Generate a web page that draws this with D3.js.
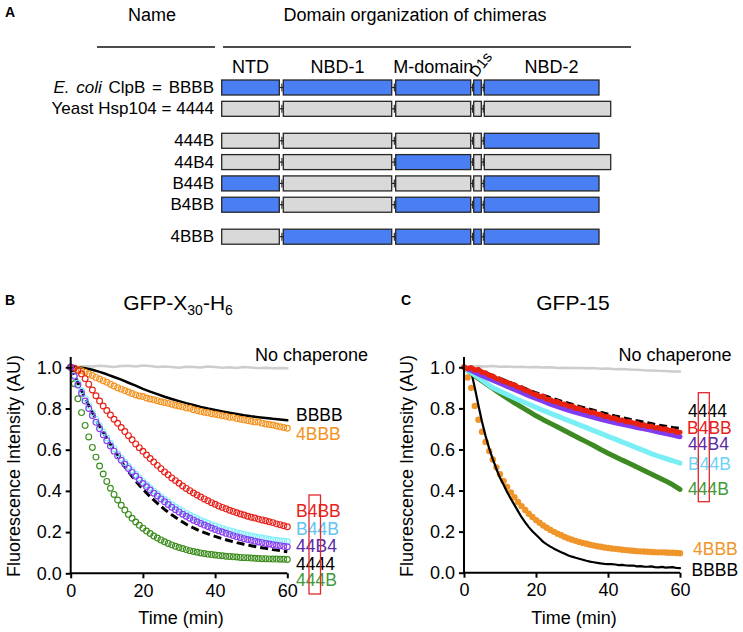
<!DOCTYPE html>
<html>
<head>
<meta charset="utf-8">
<script src="https://cdn.jsdelivr.net/npm/d3@7"></script>
<style>
  body { margin: 0; background: #fff; }
  svg { display: block; font-family: "Liberation Sans", Arial, Helvetica, sans-serif; }
</style>
</head>
<body>
<div id="chart"></div>
<script>
// ---- data ------------------------------------------------------------------

// Panel A: domain organization (schematic units along the chain)
const domainNames = ["NTD", "NBD-1", "M-domain", "D1s", "NBD-2"];
const domainStart = [0, 61.6, 174, 252, 262.6];
const domainEnd = [57.6, 170, 249, 259.6, 377.3];
const nbd2EndYeast = 389;
const chimeraLabels = ["E. coli ClpB = BBBB", "Yeast Hsp104 = 4444", "444B", "44B4", "B44B", "B4BB", "4BBB"];
// one letter per domain (NTD, NBD-1, M, D1s, NBD-2): B = ClpB, 4 = Hsp104
const chimeraCodes = ["BBBBB", "44444", "4444B", "44B44", "B444B", "B4BBB", "4BBBB"];
const chimeraSlot = [0, 1, 2.5, 3.5, 4.5, 5.5, 7];

// time axes
const minutes = d3.range(0, 61);        // sampled every minute
const minutes2 = d3.range(0, 61, 2);    // sampled every two minutes
const timeTicks = [0, 20, 40, 60];
const intensityTicks = [0, 0.2, 0.4, 0.6, 0.8, 1.0];

// Panel B: GFP-X30-H6
const bNone = [1.000,1.003,1.005,1.004,1.007,1.005,1.002,1.006,1.008,1.004,1.009,1.006,1.002,1.004,1.001,0.998,1.003,1.001,0.999,1.004,1.002,0.998,1.000,0.997,1.001,0.999,0.996,0.998,0.995,0.997,0.995];
const bBBBB = [1.000,1.000,0.995,0.988,0.978,0.966,0.953,0.940,0.925,0.911,0.895,0.882,0.870,0.857,0.846,0.836,0.826,0.817,0.808,0.800,0.793,0.786,0.779,0.773,0.767,0.762,0.758,0.754,0.750,0.747,0.743];
const b4444 = [1.000,0.925,0.850,0.780,0.715,0.655,0.597,0.543,0.493,0.448,0.408,0.372,0.340,0.310,0.284,0.260,0.238,0.220,0.204,0.191,0.179,0.168,0.158,0.149,0.141,0.134,0.127,0.121,0.115,0.110,0.105];
const b4BBB = [1.000,0.996,0.990,0.983,0.976,0.968,0.960,0.951,0.943,0.935,0.927,0.918,0.909,0.901,0.894,0.887,0.880,0.873,0.866,0.861,0.858,0.851,0.846,0.842,0.838,0.833,0.829,0.825,0.821,0.816,0.812,0.808,0.803,0.801,0.794,0.790,0.786,0.782,0.779,0.775,0.772,0.769,0.765,0.762,0.758,0.757,0.751,0.748,0.745,0.742,0.738,0.735,0.734,0.729,0.725,0.722,0.720,0.715,0.711,0.708,0.704];
const bB4BB = [1.000,0.995,0.985,0.968,0.945,0.918,0.890,0.862,0.836,0.812,0.790,0.768,0.748,0.728,0.708,0.688,0.668,0.648,0.628,0.610,0.592,0.574,0.557,0.540,0.524,0.508,0.492,0.478,0.463,0.450,0.437,0.424,0.412,0.401,0.390,0.380,0.370,0.361,0.352,0.343,0.335,0.327,0.320,0.313,0.306,0.300,0.294,0.288,0.283,0.277,0.272,0.268,0.263,0.259,0.255,0.250,0.246,0.240,0.236,0.231,0.226];
const bB44B = [1.000,0.962,0.924,0.886,0.849,0.814,0.780,0.747,0.716,0.686,0.657,0.630,0.605,0.581,0.559,0.538,0.518,0.499,0.481,0.463,0.446,0.430,0.414,0.399,0.385,0.371,0.358,0.345,0.333,0.322,0.311,0.301,0.291,0.282,0.273,0.265,0.257,0.250,0.243,0.236,0.230,0.224,0.218,0.212,0.207,0.202,0.197,0.193,0.189,0.185,0.181,0.177,0.174,0.171,0.168,0.165,0.162,0.160,0.158,0.156,0.154];
const b44B4 = [1.000,0.956,0.914,0.874,0.836,0.800,0.766,0.733,0.702,0.672,0.644,0.618,0.593,0.570,0.549,0.529,0.509,0.490,0.471,0.453,0.436,0.420,0.404,0.389,0.375,0.361,0.347,0.334,0.321,0.309,0.298,0.287,0.277,0.267,0.258,0.250,0.242,0.234,0.227,0.220,0.213,0.206,0.200,0.194,0.189,0.183,0.178,0.173,0.168,0.164,0.160,0.156,0.152,0.149,0.145,0.142,0.139,0.136,0.134,0.131,0.129];
const b444B = [1.000,0.920,0.847,0.780,0.718,0.662,0.611,0.564,0.521,0.482,0.446,0.413,0.383,0.356,0.330,0.307,0.286,0.267,0.249,0.233,0.219,0.205,0.193,0.181,0.171,0.162,0.153,0.145,0.138,0.131,0.125,0.120,0.115,0.110,0.106,0.102,0.099,0.096,0.093,0.091,0.089,0.087,0.085,0.083,0.082,0.080,0.079,0.077,0.076,0.075,0.074,0.073,0.072,0.071,0.071,0.070,0.069,0.069,0.068,0.068,0.067];

// Panel C: GFP-15
const cNone = [1.000,1.004,1.005,1.004,1.006,1.003,1.004,1.002,1.003,1.000,1.002,0.999,1.000,0.997,0.998,0.996,0.997,0.995,0.996,0.993,0.994,0.991,0.992,0.989,0.988,0.986,0.985,0.983,0.982,0.980,0.979];
const c4444 = [1.000,0.995,0.987,0.975,0.960,0.946,0.932,0.918,0.904,0.890,0.876,0.864,0.852,0.841,0.830,0.820,0.810,0.800,0.791,0.781,0.772,0.763,0.755,0.747,0.740,0.733,0.726,0.719,0.713,0.707,0.702];
const c44B4 = [1.000,0.984,0.968,0.952,0.937,0.922,0.907,0.892,0.877,0.862,0.848,0.835,0.821,0.808,0.796,0.786,0.776,0.766,0.756,0.747,0.738,0.730,0.722,0.715,0.707,0.700,0.693,0.685,0.678,0.670,0.662];
const cB44B = [1.000,0.975,0.950,0.925,0.900,0.883,0.867,0.851,0.835,0.820,0.805,0.790,0.776,0.762,0.748,0.734,0.720,0.706,0.692,0.678,0.664,0.650,0.636,0.622,0.608,0.594,0.580,0.567,0.556,0.545,0.533];
const c444B = [1.000,0.972,0.946,0.921,0.897,0.873,0.850,0.827,0.806,0.785,0.764,0.745,0.727,0.709,0.691,0.673,0.655,0.637,0.619,0.600,0.582,0.565,0.548,0.532,0.515,0.498,0.481,0.464,0.447,0.428,0.406];
const cB4BB = [1.000,0.994,0.999,0.986,0.990,0.975,0.973,0.960,0.958,0.944,0.942,0.930,0.928,0.917,0.915,0.903,0.900,0.887,0.885,0.871,0.869,0.857,0.860,0.844,0.843,0.832,0.833,0.821,0.821,0.810,0.812,0.800,0.801,0.790,0.791,0.780,0.781,0.772,0.771,0.760,0.761,0.751,0.753,0.742,0.744,0.734,0.736,0.729,0.728,0.718,0.721,0.711,0.714,0.705,0.707,0.698,0.701,0.691,0.694,0.684,0.684];
const cBBBB = [1.000,0.998,0.980,0.900,0.815,0.735,0.665,0.605,0.553,0.505,0.462,0.428,0.392,0.360,0.330,0.300,0.270,0.245,0.222,0.202,0.185,0.168,0.150,0.138,0.127,0.117,0.108,0.100,0.092,0.084,0.078,0.073,0.068,0.063,0.058,0.054,0.051,0.048,0.045,0.043,0.042,0.042,0.040,0.037,0.038,0.035,0.034,0.035,0.031,0.032,0.030,0.029,0.031,0.027,0.026,0.028,0.025,0.026,0.027,0.023,0.022];
const c4BBB = [1.000,0.950,0.900,0.812,0.745,0.686,0.636,0.592,0.551,0.513,0.479,0.447,0.418,0.391,0.367,0.344,0.324,0.305,0.287,0.271,0.256,0.243,0.230,0.219,0.208,0.199,0.190,0.182,0.174,0.167,0.161,0.155,0.150,0.145,0.141,0.136,0.133,0.129,0.126,0.123,0.120,0.118,0.116,0.114,0.112,0.110,0.108,0.107,0.105,0.104,0.103,0.102,0.101,0.100,0.099,0.099,0.098,0.097,0.097,0.096,0.095];

// ---- drawing ----------------------------------------------------------------

const FONT = '"Liberation Sans", Arial, Helvetica, sans-serif';
const BLUE = "#4a7ff4", GREY = "#d9d9d9";

const svg = d3.select("#chart").append("svg")
    .attr("width", 743)
    .attr("height", 632);

function panelLetter(text, x, y) {
    svg.append("text").attr("x", x).attr("y", y)
        .attr("font-size", 14).attr("font-weight", "bold").text(text);
}

// Panel A
panelLetter("A", 5, 17);
svg.append("text").attr("x", 152).attr("y", 21).attr("text-anchor", "middle")
    .attr("font-size", 18).text("Name");
svg.append("text").attr("x", 415).attr("y", 21).attr("text-anchor", "middle")
    .attr("font-size", 18).text("Domain organization of chimeras");
svg.append("line").attr("x1", 97).attr("x2", 215).attr("y1", 47).attr("y2", 47)
    .attr("stroke", "#111").attr("stroke-width", 1.3);
svg.append("line").attr("x1", 223).attr("x2", 631).attr("y1", 47).attr("y2", 47)
    .attr("stroke", "#111").attr("stroke-width", 1.3);

const xDom = d3.scaleLinear().domain([0, 410]).range([221.7, 631.7]);
const yRow = d3.scaleLinear().domain([0, 7]).range([80, 229.2]);
const rowH = 15;

// column headers
domainNames.forEach((name, i) => {
    const end = i === 4 ? nbd2EndYeast : domainEnd[i];
    const cx = (xDom(domainStart[i]) + xDom(end)) / 2;
    if (name === "D1s") {
        svg.append("text")
            .attr("transform", `translate(${cx - 1},78) rotate(-52)`)
            .attr("font-size", 15).text(name);
    } else {
        svg.append("text").attr("x", i === 4 ? cx + 4 : cx).attr("y", 73).attr("text-anchor", "middle")
            .attr("font-size", 18).text(name);
    }
});

const rows = svg.selectAll(".chimera")
    .data(chimeraCodes)
    .enter()
    .append("g")
    .attr("class", "chimera")
    .attr("transform", (d, i) => `translate(0,${yRow(chimeraSlot[i])})`);

rows.each(function (code, r) {
    const g = d3.select(this);
    const boxes = code.split("").map((c, i) => ({
        c: c,
        x0: xDom(domainStart[i]),
        x1: xDom(i === 4 && c === "4" ? nbd2EndYeast : domainEnd[i])
    }));
    // linkers between domains
    boxes.slice(0, -1).forEach((b, i) => {
        const next = boxes[i + 1];
        g.append("line").attr("x1", b.x1).attr("x2", next.x0)
            .attr("y1", rowH / 2).attr("y2", rowH / 2)
            .attr("stroke", "#222").attr("stroke-width", 1.2);
        const tx = b.x1 + (next.x0 - b.x1) * 0.65;
        g.append("line").attr("x1", tx).attr("x2", tx)
            .attr("y1", rowH / 2 - 4).attr("y2", rowH / 2 + 4)
            .attr("stroke", "#222").attr("stroke-width", 1.1);
    });
    g.selectAll("rect").data(boxes).enter().append("rect")
        .attr("x", d => d.x0)
        .attr("y", 0)
        .attr("width", d => d.x1 - d.x0)
        .attr("height", rowH)
        .attr("fill", d => d.c === "B" ? BLUE : GREY)
        .attr("stroke", "#262626")
        .attr("stroke-width", 1.3);

    const label = g.append("text").attr("x", 214).attr("y", 13)
        .attr("text-anchor", "end").attr("font-size", 17);
    const txt = chimeraLabels[r];
    if (txt.startsWith("E. coli")) {
        label.attr("word-spacing", 2);
        label.append("tspan").attr("font-style", "italic").text("E. coli");
        label.append("tspan").text(txt.slice(7));
    } else {
        label.text(txt);
    }
});

// Panels B and C
function drawKinetics(opt) {
    const g = svg.append("g");
    const x = d3.scaleLinear().domain([0, 60]).range(opt.xRange);
    const y = d3.scaleLinear().domain([0, 1]).range(opt.yRange);

    panelLetter(opt.letter, opt.letterX, 305);

    const title = g.append("text").attr("x", opt.titleX).attr("y", 310)
        .attr("text-anchor", "middle").attr("font-size", 21);
    opt.title.forEach(part => {
        const ts = title.append("tspan").text(part.t);
        if (part.sub) ts.attr("font-size", 14).attr("dy", 5);
        else if (part.back) ts.attr("dy", -5);
    });

    const line = d3.line().x(d => x(d[0])).y(d => y(d[1]));

    opt.series.forEach(s => {
        const pts = s.t.map((t, i) => [t, s.v[i]]);
        if (s.kind === "line" || s.kind === "dash") {
            g.append("path").datum(pts)
                .attr("d", line)
                .attr("fill", "none")
                .attr("stroke", s.color)
                .attr("stroke-width", s.width)
                .attr("stroke-linejoin", "round")
                .attr("stroke-linecap", s.kind === "dash" ? "butt" : "round")
                .attr("stroke-dasharray", s.kind === "dash" ? "8,4" : null);
        } else {
            g.append("g").selectAll("circle").data(pts).enter().append("circle")
                .attr("cx", d => x(d[0]))
                .attr("cy", d => y(d[1]))
                .attr("r", s.kind === "dot" ? 3.2 : 2.9)
                .attr("fill", s.kind === "dot" ? s.color : "none")
                .attr("stroke", s.kind === "dot" ? "none" : s.color)
                .attr("stroke-width", 1.15);
        }
    });

    // axes
    const yAxis = d3.axisLeft(y).tickValues(intensityTicks)
        .tickFormat(d3.format(".1f")).tickSize(5).tickPadding(4).tickSizeOuter(0);
    const gy = g.append("g").attr("transform", `translate(${x(0)},0)`).call(yAxis);
    gy.select(".domain").remove();
    gy.append("line").attr("x1", 0).attr("x2", 0).attr("y1", y(0)).attr("y2", y(1.05));
    gy.attr("font-size", 18).attr("font-family", FONT);

    const xAxis = d3.axisBottom(x).tickValues(timeTicks).tickSize(5).tickPadding(6).tickSizeOuter(0);
    const gx = g.append("g").attr("transform", `translate(0,${y(0)})`).call(xAxis);
    gx.select(".domain").remove();
    gx.append("line").attr("x1", x(0) - 1).attr("x2", x(60)).attr("y1", 0).attr("y2", 0);
    gx.attr("font-size", 18).attr("font-family", FONT);

    [gx, gy].forEach(a => {
        a.selectAll("line").attr("stroke", "#000").attr("stroke-width", 2);
        a.selectAll("text").attr("fill", "#000");
    });

    g.append("text").attr("x", x(30) + 2).attr("y", 624).attr("text-anchor", "middle")
        .attr("font-size", 18).text("Time (min)");
    g.append("text")
        .attr("transform", `translate(${opt.yLabelX},466) rotate(-90)`)
        .attr("text-anchor", "middle").attr("font-size", 18)
        .text("Fluorescence Intensity (AU)");

    opt.labels.forEach(l => {
        g.append("text").attr("x", l.x).attr("y", l.y)
            .attr("font-size", l.size || 17.5).attr("fill", l.color).text(l.text);
    });

    g.append("rect")
        .attr("x", opt.box[0]).attr("y", opt.box[1])
        .attr("width", opt.box[2]).attr("height", opt.box[3])
        .attr("fill", "none").attr("stroke", "#e3262b").attr("stroke-width", 1.3);
}

drawKinetics({
    letter: "B", letterX: 5,
    title: [{ t: "GFP-X" }, { t: "30", sub: true }, { t: "-H", back: true }, { t: "6", sub: true }],
    titleX: 178,
    xRange: [70.7, 287.3], yRange: [573.3, 367.3],
    yLabelX: 20,
    series: [
        { t: minutes2, v: bNone, kind: "line", color: "#cdcdcd", width: 2.5 },
        { t: minutes2, v: bBBBB, kind: "line", color: "#000", width: 2.5 },
        { t: minutes, v: b4BBB, kind: "circle", color: "#f4921e" },
        { t: minutes, v: b444B, kind: "circle", color: "#3c8c1e" },
        { t: minutes2, v: b4444, kind: "dash", color: "#000", width: 3 },
        { t: minutes, v: bB44B, kind: "circle", color: "#7feff8" },
        { t: minutes, v: bB4BB, kind: "circle", color: "#e8221b" },
        { t: minutes, v: b44B4, kind: "circle", color: "#8a3cf0" }
    ],
    labels: [
        { text: "No chaperone", x: 255, y: 361, color: "#000", size: 18 },
        { text: "BBBB", x: 296, y: 421, color: "#000" },
        { text: "4BBB", x: 296, y: 439.5, color: "#f4921e" },
        { text: "B4BB", x: 296, y: 517, color: "#e8221b" },
        { text: "B44B", x: 296, y: 535, color: "#62c4f0" },
        { text: "44B4", x: 296, y: 552, color: "#5b2aa8" },
        { text: "4444", x: 296, y: 569.5, color: "#000" },
        { text: "444B", x: 296, y: 586, color: "#3f9a3a" }
    ],
    box: [309, 495, 11.5, 99]
});

drawKinetics({
    letter: "C", letterX: 401,
    title: [{ t: "GFP-15" }],
    titleX: 573,
    xRange: [464, 680], yRange: [572.7, 367.3],
    yLabelX: 413,
    series: [
        { t: minutes2, v: cNone, kind: "line", color: "#cdcdcd", width: 2.5 },
        { t: minutes, v: c4BBB, kind: "dot", color: "#f0952a" },
        { t: minutes, v: cBBBB, kind: "line", color: "#000", width: 2.2 },
        { t: minutes2, v: c444B, kind: "line", color: "#3d8a22", width: 5 },
        { t: minutes2, v: cB44B, kind: "line", color: "#79eef5", width: 5 },
        { t: minutes2, v: c44B4, kind: "line", color: "#7f3cf0", width: 5 },
        { t: minutes2, v: c4444, kind: "dash", color: "#000", width: 3 },
        { t: minutes, v: cB4BB, kind: "line", color: "#e8220f", width: 5 }
    ],
    labels: [
        { text: "No chaperone", x: 618.5, y: 361, color: "#000", size: 18 },
        { text: "4444", x: 688, y: 417, color: "#000" },
        { text: "B4BB", x: 687, y: 433.5, color: "#e8221b" },
        { text: "44B4", x: 688, y: 449.5, color: "#5b2aa8" },
        { text: "B44B", x: 688, y: 469.5, color: "#6fd2f5" },
        { text: "444B", x: 688, y: 495, color: "#3f9a3a" },
        { text: "4BBB", x: 693, y: 555, color: "#f0952a" },
        { text: "BBBB", x: 691.5, y: 576, color: "#000" }
    ],
    box: [698.3, 392.7, 11, 109]
});
</script>
</body>
</html>
